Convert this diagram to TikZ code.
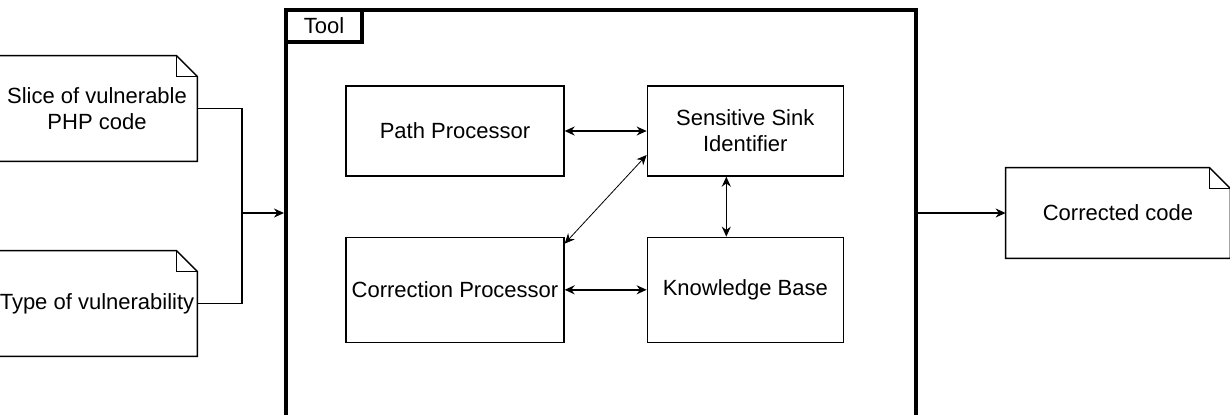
\documentclass[tikz,border=0pt]{standalone}
\usepackage{fontspec}
\setmainfont{Liberation Sans}
\usetikzlibrary{positioning,arrows.meta}
\tikzset{
  label/.style={font=\fontsize{11}{13}\selectfont},
  block/.style={label,draw,line width=0.65pt,align=center,minimum width=109pt,minimum height=45pt,inner sep=1pt},
  tallblock/.style={block,minimum height=52.5pt},
  narrow/.style={minimum width=98pt},
  doc/.style={label,align=center,inner sep=0pt},
  frame/.style={draw,line width=2pt,minimum width=315pt,minimum height=215pt},
  tab/.style={label,draw,line width=2pt,minimum width=38pt,minimum height=16pt,inner sep=0pt},
  wire/.style={line width=0.7pt},
  arrow/.style={wire,-{Stealth[length=5pt,width=4.5pt]}},
  both/.style={wire,{Stealth[length=5pt,width=4.5pt]}-{Stealth[length=5pt,width=4.5pt]}}
}
% outline of a document node with a folded corner
\newcommand\docoutline[1]{%
  \draw[wire] (#1.north west) -- ([xshift=-10.5pt]#1.north east) -- ([yshift=-10.5pt]#1.north east) -- (#1.south east) -- (#1.south west) -- cycle;
  \draw[wire] ([xshift=-10.5pt]#1.north east) |- ([yshift=-10.5pt]#1.north east);}

\begin{document}
\begin{tikzpicture}[x=0.5pt,y=-0.5pt]
  \clip (0,0) rectangle (1230,414);
  % inputs
  \node[doc,minimum width=100pt,minimum height=52.5pt] (slice) at (97,108.5) {Slice of vulnerable\\PHP code};
  \node[doc,minimum width=100pt,minimum height=52.5pt] (type) at (97,303.5) {Type of vulnerability};
  \docoutline{slice}
  \docoutline{type}
  % the tool
  \node[frame] (tool) at (601,225) {};
  \node[tab,anchor=north west] (toollabel) at (tool.north west) {Tool};
  \node[block] (path) at (455,131) {Path Processor};
  \node[block,narrow,right=41pt of path] (sink) {Sensitive Sink\\Identifier};
  \node[tallblock,below=30pt of path] (corr) {Correction Processor};
  \node[tallblock,narrow,right=41pt of corr] (kb) {Knowledge Base};
  \draw[both] (path) -- (sink);
  \draw[both] (corr) -- (kb);
  \draw[both] ([xshift=-9.5pt]sink.south) -- ([xshift=-9.5pt]kb.north);
  \draw[both,line width=0.4pt] ([yshift=-12pt]sink.west) -- ([yshift=-3.5pt]corr.north east);
  % output
  \node[doc,minimum width=112pt,minimum height=45pt] (out) at (1118,213) {Corrected code};
  \docoutline{out}
  \coordinate (join) at (242,213);
  \draw[wire] (slice.east) -| (join);
  \draw[wire] (type.east) -| (join);
  \draw[arrow] (join) -- (join -| tool.west);
  \draw[arrow] (out -| tool.east) -- (out.west);
\end{tikzpicture}
\end{document}
